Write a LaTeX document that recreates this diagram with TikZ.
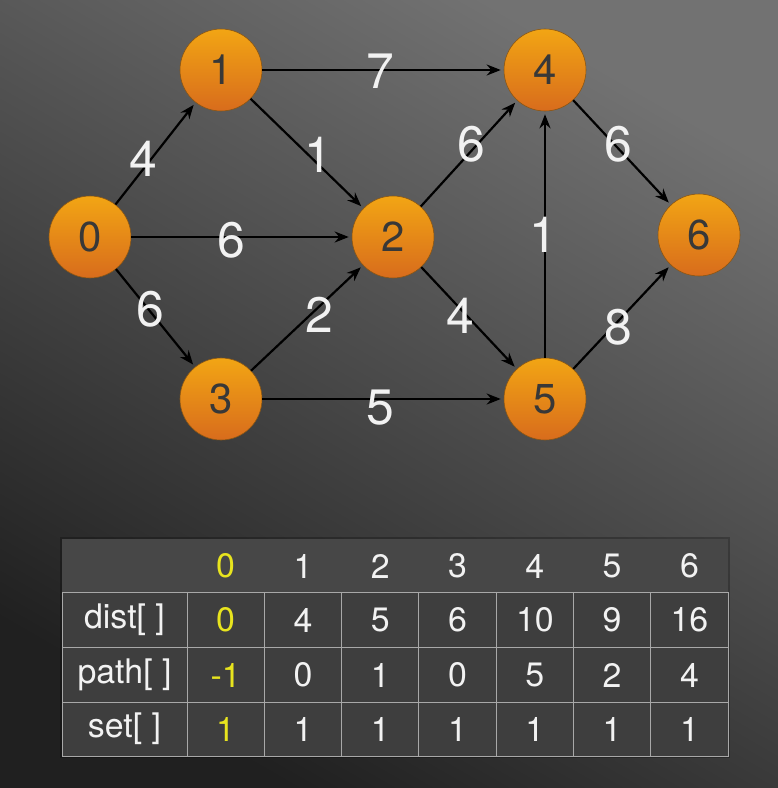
\documentclass[tikz,border=0pt]{standalone}
\usepackage{fontspec}
\setmainfont{TeX Gyre Heros}
\usetikzlibrary{arrows.meta}
\definecolor{bgLight}{HTML}{727272}
\definecolor{bgDark}{HTML}{202020}
\definecolor{nodetop}{HTML}{F2A514}
\definecolor{nodebot}{HTML}{D86C1C}
\definecolor{nodeedge}{HTML}{8A5614}
\definecolor{nodetext}{HTML}{383838}
\definecolor{hdrfill}{HTML}{474747}
\definecolor{cellfill}{HTML}{3E3E3E}
\definecolor{gridcol}{HTML}{A8A8A8}
\definecolor{tyellow}{HTML}{E8E41E}
\definecolor{twhite}{HTML}{F2F2F2}
\begin{document}
\begin{tikzpicture}[x=1bp,y=-1bp,
  vtx/.style={circle, minimum size=82bp, inner sep=0pt, top color=nodetop, bottom color=nodebot,
    draw=nodeedge, line width=0.6bp, text=nodetext, font=\fontsize{42}{42}\selectfont},
  edgearrow/.style={-{Stealth[length=14bp,width=11bp]}, line width=2.2bp, black, shorten >=3bp},
  elabel/.style={text=twhite, inner sep=0pt, font=\fontsize{50}{50}\selectfont},
  tcell/.style={text=twhite, inner sep=0pt, font=\fontsize{34}{34}\selectfont},
  gridline/.style={draw=gridcol, line width=1bp}]
\useasboundingbox (0,0) rectangle (778,788);
\shade[shading=axis, top color=bgLight, bottom color=bgDark, shading angle=-30] (0,0) rectangle (778,788);

% graph nodes
\node[vtx] (n0) at (90,237) {0};
\node[vtx] (n1) at (221,70) {1};
\node[vtx] (n2) at (393,237) {2};
\node[vtx] (n3) at (221,399) {3};
\node[vtx] (n4) at (545,70) {4};
\node[vtx] (n5) at (545,399) {5};
\node[vtx] (n6) at (699,235) {6};

% edges
\draw[edgearrow] (n0) -- (n1);
\draw[edgearrow] (n1) -- (n4);
\draw[edgearrow] (n1) -- (n2);
\draw[edgearrow] (n0) -- (n2);
\draw[edgearrow] (n0) -- (n3);
\draw[edgearrow] (n3) -- (n2);
\draw[edgearrow] (n3) -- (n5);
\draw[edgearrow] (n2) -- (n4);
\draw[edgearrow] (n2) -- (n5);
\draw[edgearrow] (n5) -- (n4);
\draw[edgearrow] (n4) -- (n6);
\draw[edgearrow] (n5) -- (n6);

% edge labels
\node[elabel] (w01) at (143,159) {4};
\node[elabel] (w14) at (380,71) {7};
\node[elabel] (w12) at (318,155) {1};
\node[elabel] (w02) at (231,240) {6};
\node[elabel] (w03) at (150,309) {6};
\node[elabel] (w32) at (319,315) {2};
\node[elabel] (w35) at (380,408) {5};
\node[elabel] (w24) at (471,144) {6};
\node[elabel] (w25) at (460,316) {4};
\node[elabel] (w54) at (543,235) {1};
\node[elabel] (w46) at (618,144) {6};
\node[elabel] (w56) at (618,327) {8};

% table
\fill[black, opacity=0.25] (60,537) rectangle (730,758);
\fill[hdrfill] (62,539) rectangle (728,592);
\fill[cellfill] (62,592) rectangle (728,756);
\draw[gridline] (62,592) rectangle (728,756);
\draw[gridline] (62,647) -- (728,647);
\draw[gridline] (62,702) -- (728,702);
\foreach \k in {0,...,6} {
  \draw[gridline] ({187+77.3*\k},592) -- ({187+77.3*\k},756);
}
% row labels
\node[tcell] (rdist) at (124.5,620) {dist[ ]};
\node[tcell] (rpath) at (124.5,675) {path[ ]};
\node[tcell] (rset) at (124.5,729) {set[ ]};
% header
\node[tcell, text=tyellow] (h0) at (225.65,566) {0};
\foreach \v [count=\i] in {1,2,3,4,5,6} {
  \node[tcell] (h\v) at ({225.65+77.3*\i},566) {\v};
}
% dist
\node[tcell, text=tyellow] (d0) at (225.65,620) {0};
\foreach \v [count=\i] in {4,5,6,10,9,16} {
  \node[tcell] (d\i) at ({225.65+77.3*\i},620) {\v};
}
% path
\node[tcell, text=tyellow] (p0) at (225.65,675) {-1};
\foreach \v [count=\i] in {0,1,0,5,2,4} {
  \node[tcell] (p\i) at ({225.65+77.3*\i},675) {\v};
}
% set
\node[tcell, text=tyellow] (s0) at (225.65,729) {1};
\foreach \v [count=\i] in {1,1,1,1,1,1} {
  \node[tcell] (s\i) at ({225.65+77.3*\i},729) {\v};
}
\end{tikzpicture}
\end{document}
